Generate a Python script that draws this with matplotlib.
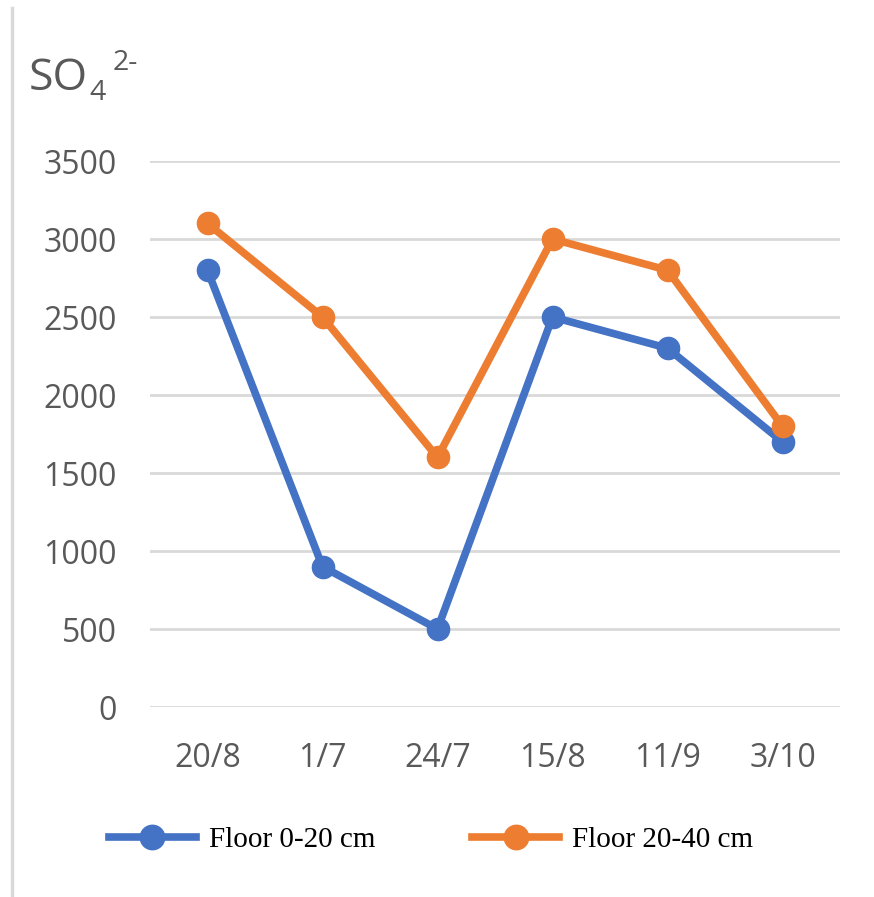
import matplotlib.pyplot as plt
from matplotlib.lines import Line2D

dates = ["20/8", "1/7", "24/7", "15/8", "11/9", "3/10"]
floor_0_20 = [2800, 900, 500, 2500, 2300, 1700]
floor_20_40 = [3100, 2500, 1600, 3000, 2800, 1800]
y_ticks = [0, 500, 1000, 1500, 2000, 2500, 3000, 3500]

W, H = 874, 897
fig = plt.figure(figsize=(W / 100, H / 100), dpi=100)
ax = fig.add_axes([150 / W, 1 - 707 / H, 690 / W, 546 / H])

x = range(len(dates))
ax.plot(x, floor_0_20, color="#4472C4", lw=5.5, marker="o", ms=16, label="Floor 0-20 cm")
ax.plot(x, floor_20_40, color="#ED7D31", lw=5.5, marker="o", ms=16, label="Floor 20-40 cm")

ax.set_xlim(-0.5, len(dates) - 0.5)
ax.set_ylim(0, 3500)
ax.set_yticks(y_ticks)
ax.set_xticks(list(x))
ax.set_xticklabels(dates)
ax.grid(axis="y", color="#d9d9d9", lw=2)
ax.set_axisbelow(True)
for s in ax.spines.values():
    s.set_visible(False)
ax.tick_params(length=0, colors="#595959", labelsize=23)
ax.tick_params(axis="y", pad=24)
ax.tick_params(axis="x", pad=25)
for lab in ax.get_xticklabels() + ax.get_yticklabels():
    lab.set_fontfamily("Open Sans")

# ion label on top of the value axis
fig.text(29 / W, 1 - 90 / H, "SO", fontsize=32, color="#595959", family="Open Sans", va="baseline")
fig.text(89 / W, 1 - 100 / H, "4", fontsize=20.5, color="#595959", family="Open Sans", va="baseline")
fig.text(113 / W, 1 - 70 / H, "2-", fontsize=20.5, color="#595959", family="Open Sans", va="baseline")

leg = ax.legend(loc="center left", bbox_to_anchor=(94 / W, 1 - 840 / H), bbox_transform=fig.transFigure,
                ncol=2, frameon=False, borderpad=0, handlelength=3.0, columnspacing=3.3,
                handletextpad=0.45, markerscale=1.1,
                prop={"family": "Liberation Serif", "size": 21})

# thin border on the left edge
fig.add_artist(Line2D([12 / W, 12 / W], [0, 1 - 8 / H], color="#d9d9d9", lw=2.5))

fig.savefig("out.png", dpi=100)
